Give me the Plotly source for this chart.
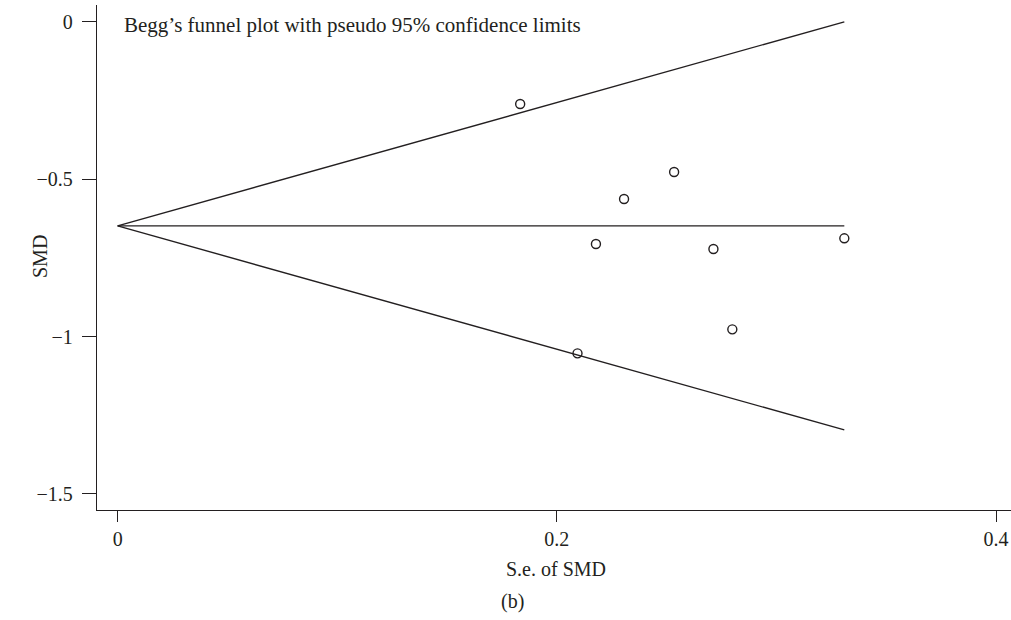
import plotly.graph_objects as go

# Study data: standard error of SMD and SMD
se_smd = [0.1833, 0.2534, 0.2306, 0.2178, 0.2713, 0.3309, 0.2799, 0.2094]
smd = [-0.2606, -0.4768, -0.5626, -0.7057, -0.7216, -0.6875, -0.9768, -1.0531]

pooled_smd = -0.648
z95 = 1.96

x_ticks = [0, 0.2, 0.4]
x_ticktext = ["0", "0.2", "0.4"]
y_ticks = [0, -0.5, -1, -1.5]
y_ticktext = ["0", "\u22120.5", "\u22121", "\u22121.5"]

title_text = "Begg\u2019s funnel plot with pseudo 95% confidence limits"
x_title = "S.e. of SMD"
y_title = "SMD"
panel_label = "(b)"

ink = "#231f20"
font_family = "Liberation Serif, DejaVu Serif, serif"

max_se = max(se_smd)
funnel_x = [0, max_se]
upper_y = [pooled_smd, pooled_smd + z95 * max_se]
lower_y = [pooled_smd, pooled_smd - z95 * max_se]
center_y = [pooled_smd, pooled_smd]

fig = go.Figure()
for yy in (upper_y, center_y, lower_y):
    fig.add_trace(go.Scatter(x=funnel_x, y=yy, mode="lines",
                             line=dict(color=ink, width=1.4),
                             hoverinfo="skip", showlegend=False))
fig.add_trace(go.Scatter(x=se_smd, y=smd, mode="markers",
                         marker=dict(symbol="circle-open", size=9,
                                     color=ink, line=dict(width=1.4, color=ink)),
                         showlegend=False))

W, H = 1011, 620
ML, MR, MT, MB = 97, 0, 5, 110

fig.update_layout(
    width=W, height=H,
    margin=dict(l=ML, r=MR, t=MT, b=MB, autoexpand=False),
    paper_bgcolor="white", plot_bgcolor="white",
    font=dict(family=font_family, size=20, color=ink),
    showlegend=False,
    xaxis=dict(range=[-0.0094, 0.4068], tickvals=x_ticks, ticktext=x_ticktext,
               showgrid=False, zeroline=False, showline=True, linecolor=ink,
               linewidth=1.4, ticks="outside", ticklen=11, tickwidth=1.2,
               tickcolor=ink, tickfont=dict(size=20)),
    yaxis=dict(range=[-1.551, 0.054], tickvals=y_ticks, ticktext=y_ticktext,
               showgrid=False, zeroline=False, showline=True, linecolor=ink,
               linewidth=1.4, ticks="outside", ticklen=14, tickwidth=1.2,
               tickcolor=ink, tickfont=dict(size=20), ticklabelstandoff=5),
)

plot_w = W - ML - MR
plot_h = H - MT - MB
def px(xp):
    return (xp - ML) / plot_w
def py(yp):
    return (H - MB - yp) / plot_h

fig.add_annotation(text=title_text, x=px(122), y=py(25), xref="paper", yref="paper",
                   showarrow=False, font=dict(size=21, color=ink),
                   xanchor="left", yanchor="middle")
fig.add_annotation(text=x_title, x=px(556), y=py(569), xref="paper", yref="paper",
                   showarrow=False, font=dict(size=20, color=ink),
                   xanchor="center", yanchor="middle")
fig.add_annotation(text=panel_label, x=px(512), y=py(601), xref="paper", yref="paper",
                   showarrow=False, font=dict(size=20, color=ink),
                   xanchor="center", yanchor="middle")
fig.add_annotation(text=y_title, x=px(40), y=py(257), xref="paper", yref="paper",
                   showarrow=False, textangle=-90, font=dict(size=20, color=ink),
                   xanchor="center", yanchor="middle")

fig.write_html("out.html", config={"displayModeBar": False},
               post_script="document.body.style.margin='0';document.body.style.overflow='hidden';")
